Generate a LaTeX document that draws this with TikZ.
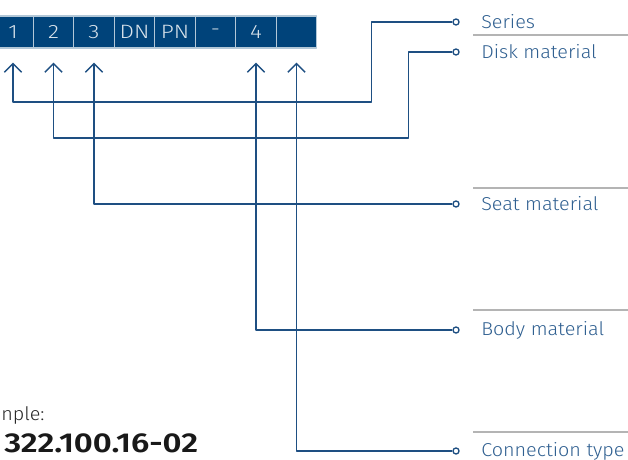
\documentclass[tikz,border=0pt]{standalone}
\usepackage{fontspec}
\setmainfont{Fira Sans Light}[BoldFont={Fira Sans SemiBold}]
\newfontfamily\widefont{Fira Sans Light}[FakeStretch=1.06]
\newfontfamily\cellfont{Fira Sans Light}[FakeStretch=1.18]
\newfontfamily\codefont{Fira Sans SemiBold}[FakeStretch=1.2]
\usetikzlibrary{arrows.meta,positioning}
\definecolor{navy}{HTML}{00437A}
\definecolor{wire}{HTML}{1E4F82}
\definecolor{labelblue}{HTML}{2F5F90}
\definecolor{rulegray}{HTML}{B4B4B4}
\begin{document}
\begin{tikzpicture}[x=0.75pt,y=-0.75pt,line join=round,
  cell/.style={fill=navy,draw=white!70!navy,line width=0.8pt,minimum width=30.4pt,minimum height=24pt,inner sep=0pt,text=white!85!navy,font=\cellfont\fontsize{14.5}{16}\selectfont},
  lbl/.style={anchor=west,inner sep=0pt,text=labelblue,font=\widefont\fontsize{14}{16}\selectfont},
  pin/.style={circle,draw=wire,fill=white,line width=1pt,minimum size=4.5pt,inner sep=0pt},
  link/.style={draw=wire,line width=1.1pt,-{Straight Barb[length=6.5pt,width=13pt,line width=1.1pt]}},
  sep/.style={draw=rulegray,line width=0.8pt}]
  \useasboundingbox (0,0) rectangle (628,460);
  \clip (0,0) rectangle (628,460);
  \foreach \y in {35,188,310,432}
    \draw[sep] (473,\y) -- (628,\y);
  \foreach \t [count=\i] in {1,2,3,DN,PN,-,4,{}}
    \node[cell] (b\i) at ({13+40.5*(\i-1)},32) {\t};
  \foreach \i in {1,2,3,7,8}
    \coordinate (t\i) at ([yshift=-10.5pt]b\i.south);
  \node[pin] (p1) at (456,22) {};
  \node[pin] (p2) at (456,52) {};
  \node[pin] (p3) at (456,204) {};
  \node[pin] (p4) at (456,330) {};
  \node[pin] (p5) at (456,451) {};
  \node[lbl,right=16pt of p1] (l1) {Series};
  \node[lbl,right=16pt of p2] (l2) {Disk material};
  \node[lbl,right=16pt of p3] (l3) {Seat material};
  \node[lbl,right=16pt of p4] (l4) {Body material};
  \node[lbl,right=16pt of p5] (l5) {Connection type};
  \draw[link] (p1.west) -| ++(-81,80) -| (t1);
  \draw[link] (p2.west) -| ++(-44,86) -| (t2);
  \draw[link] (p3.west) -| (t3);
  \draw[link] (p4.west) -| (t7);
  \draw[link] (p5.west) -| (t8);
  \node[anchor=west,inner sep=0pt,text=black!85,font=\widefont\fontsize{14}{16}\selectfont] (ex) at (1,415) {nple:};
  \node[anchor=base west,inner sep=0pt,text=black!90,font=\codefont\fontsize{20.5}{24}\selectfont] (code) at (4,452) {322.100.16-02};
\end{tikzpicture}
\end{document}
